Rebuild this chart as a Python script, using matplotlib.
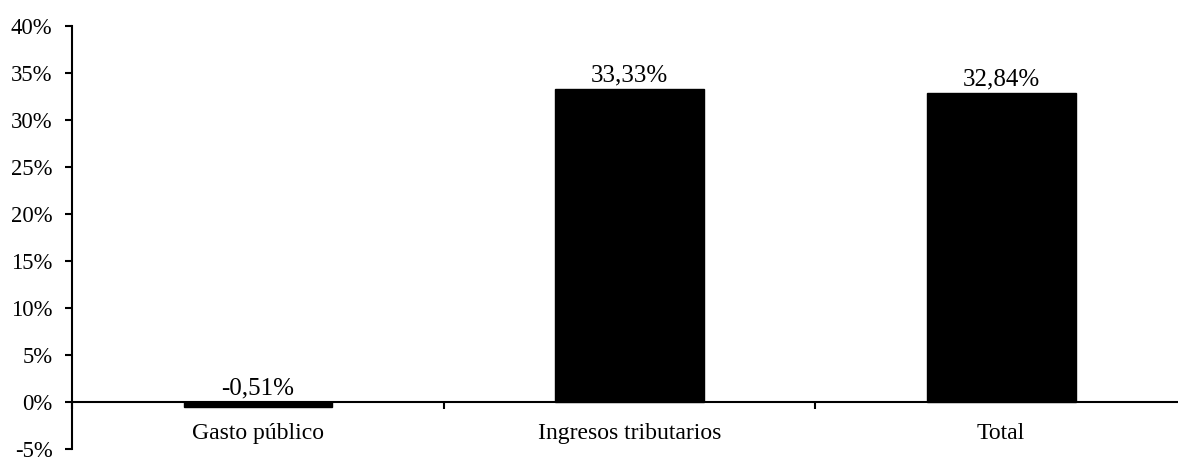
import matplotlib
matplotlib.use("Agg")
import numpy as np
from matplotlib import pyplot as plt
from matplotlib.ticker import FuncFormatter, MultipleLocator

categorias = ["Gasto público", "Ingresos tributarios", "Total"]
valores = [-0.51, 33.33, 32.84]
etiquetas = ["-0,51%", "33,33%", "32,84%"]

plt.rcParams["font.family"] = ["Liberation Serif", "DejaVu Serif"]
plt.rcParams["font.size"] = 16

fig = plt.figure(figsize=(11.78, 4.59), dpi=100)
ax = fig.add_axes([72 / 1178, 1 - 449 / 459, (1187 - 72) / 1178, (449 - 26) / 459])

x = np.arange(len(categorias))
ax.bar(x, valores, width=0.40, color="black", edgecolor="black", linewidth=1)

for xi, v, txt in zip(x, valores, etiquetas):
    ax.annotate(txt, (xi, max(v, 0)), xytext=(0, 5.5), textcoords="offset points",
                ha="center", va="baseline", fontsize=18)

ax.set_xlim(-0.5, len(categorias) - 0.5)
ax.set_ylim(-5, 40)

ax.yaxis.set_major_locator(MultipleLocator(5))
ax.yaxis.set_major_formatter(FuncFormatter(lambda v, p: "%d%%" % round(v)))
ax.tick_params(axis="y", direction="out", length=5, width=1.5, pad=9, labelsize=16.3)

# categories centred, small ticks between them
ax.set_xticks(x)
ax.set_xticklabels(categorias)
ax.set_xticks(np.arange(len(categorias) + 1) - 0.5, minor=True)
ax.tick_params(axis="x", which="major", length=0, pad=15, labelsize=17)
ax.tick_params(axis="x", which="minor", direction="out", length=5, width=1.5)

for s in ["top", "right"]:
    ax.spines[s].set_visible(False)
ax.spines["bottom"].set_position(("data", 0))
ax.spines["bottom"].set_linewidth(1.5)
ax.spines["left"].set_linewidth(1.5)

fig.savefig("out.png", dpi=100)
